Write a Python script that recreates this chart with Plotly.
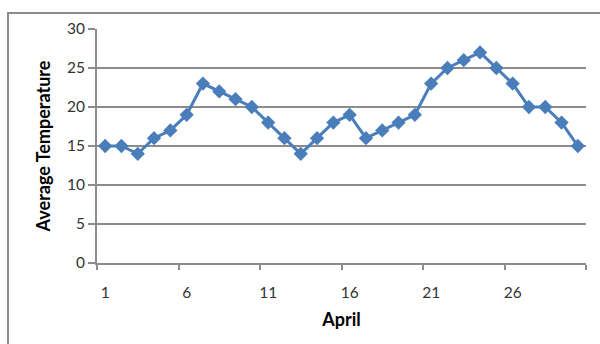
import plotly.graph_objects as go

# Daily average temperatures for April
days = list(range(1, 31))
avg_temp = [15, 15, 14, 16, 17, 19, 23, 22, 21, 20,
            18, 16, 14, 16, 18, 19, 16, 17, 18, 19,
            23, 25, 26, 27, 25, 23, 20, 20, 18, 15]
x_tick_days = [1, 6, 11, 16, 21, 26]
y_ticks = [0, 5, 10, 15, 20, 25, 30]

FONT = "Lato, 'Open Sans', sans-serif"
GRID = "#8c8c8c"

fig = go.Figure(
    go.Scatter(
        x=days,
        y=avg_temp,
        mode="lines+markers",
        line=dict(color="#4a7ebb", width=3),
        marker=dict(symbol="diamond", size=11, color="#4a7ebb"),
        showlegend=False,
    )
)

L, R, T, B = 97, 14, 29, 81
W, H = 600, 344
pw, ph = W - L - R, H - T - B

fig.update_layout(
    width=W,
    height=H,
    margin=dict(l=L, r=R, t=T, b=B),
    paper_bgcolor="white",
    plot_bgcolor="white",
    font=dict(family=FONT, size=15.5, color="#333333"),
    shapes=[
        # outer chart frame
        dict(
            type="rect", xref="paper", yref="paper",
            x0=(8 - L) / pw, x1=1.2, y0=-0.6, y1=1 + (T - 13) / ph,
            line=dict(color="#8c8c8c", width=2), layer="below",
        )
    ],
)

fig.update_xaxes(
    range=[0.5, 30.5],
    tickmode="array",
    tickvals=x_tick_days,
    ticktext=[str(d) for d in x_tick_days],
    ticks="outside",
    ticklen=14,
    tickcolor="rgba(0,0,0,0)",
    showgrid=False,
    showline=True,
    linecolor=GRID,
    linewidth=2,
    zeroline=False,
    minor=dict(
        tickmode="linear", tick0=0.5, dtick=5,
        ticks="outside", ticklen=5, tickwidth=2, tickcolor=GRID,
        showgrid=False,
    ),
    title=dict(text="<b>April</b>", font=dict(size=18, color="#000000"), standoff=14),
)

fig.update_yaxes(
    range=[0, 30],
    tickmode="array",
    tickvals=y_ticks,
    ticks="outside",
    ticklen=7,
    tickwidth=2,
    tickcolor=GRID,
    showgrid=True,
    gridcolor=GRID,
    gridwidth=2,
    showline=True,
    linecolor=GRID,
    linewidth=2,
    zeroline=False,
    title=dict(text="<b>Average Temperature</b>", font=dict(size=18, color="#000000"), standoff=12),
)

fig.write_html("out.html")
